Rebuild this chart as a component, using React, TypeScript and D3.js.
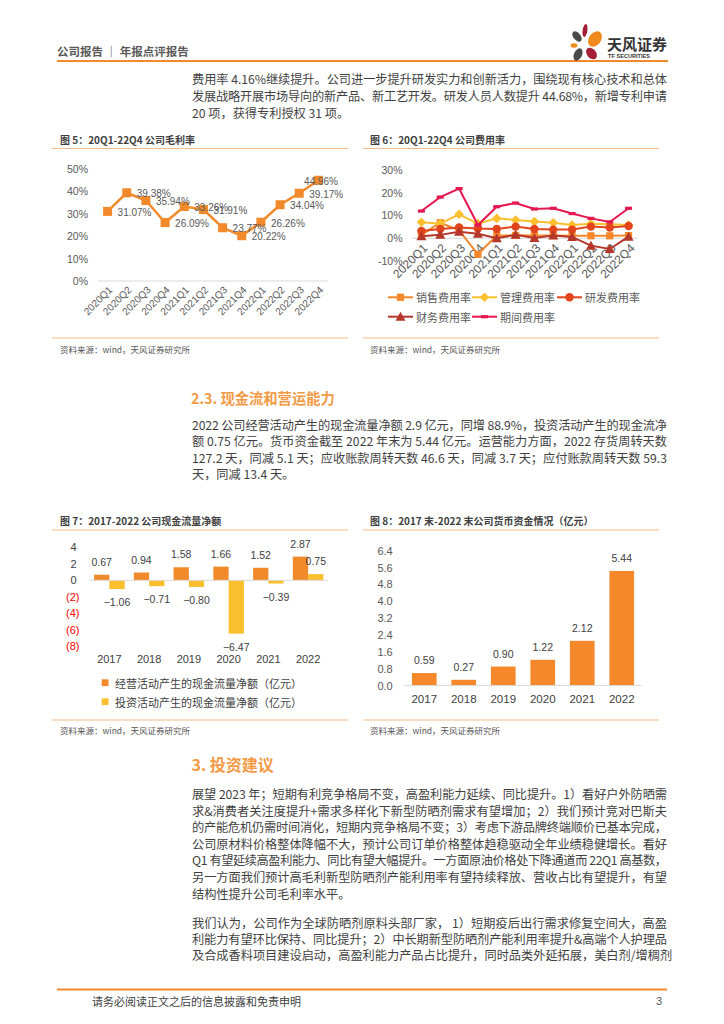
import React from 'react';
import * as d3 from 'd3';

// ---------------- data ----------------
const quarters = ['2020Q1', '2020Q2', '2020Q3', '2020Q4', '2021Q1', '2021Q2', '2021Q3', '2021Q4', '2022Q1', '2022Q2', '2022Q3', '2022Q4'];
const grossMargin = [31.07, 39.38, 35.94, 26.09, 33.26, 31.91, 23.77, 20.22, 26.26, 34.04, 39.17, 44.96];
const fig5Ticks = [0, 10, 20, 30, 40, 50];

const salesRate = [1.5, 6.8, 3.5, -7.0, 1.2, 1.3, 1.2, 1.2, 1.1, 1.1, 1.1, 1.2];
const adminRate = [7.0, 6.4, 10.5, 6.4, 8.7, 8.0, 7.3, 6.8, 5.8, 6.4, 6.1, 5.8];
const rdRate = [3.2, 4.1, 4.7, 4.3, 4.1, 5.1, 4.1, 3.8, 3.8, 5.1, 4.7, 5.4];
const finRate = [0.9, 1.5, 2.9, 2.0, 0.0, 1.5, 0.1, 1.2, 0.6, -3.2, -4.7, 0.7];
const periodRate = [11.9, 18.0, 21.7, 5.8, 13.8, 15.4, 12.8, 13.1, 10.8, 8.7, 7.1, 13.1];
const fig6Ticks = [-10, 0, 10, 20, 30];
const fig6Names = ['销售费用率', '管理费用率', '研发费用率', '财务费用率', '期间费用率'];

const years = ['2017', '2018', '2019', '2020', '2021', '2022'];
const operatingCF = [0.67, 0.94, 1.58, 1.66, 1.52, 2.87];
const investingCF = [-1.06, -0.71, -0.80, -6.47, -0.39, 0.75];
const fig7Ticks = [-8, -6, -4, -2, 0, 2, 4];
const fig7Names = ['经营活动产生的现金流量净额（亿元）', '投资活动产生的现金流量净额（亿元）'];

const cashBalance = [0.59, 0.27, 0.90, 1.22, 2.12, 5.44];
const fig8Ticks = [0, 0.8, 1.6, 2.4, 3.2, 4.0, 4.8, 5.6, 6.4];

const para1 = [
  '费用率 4.16%继续提升。公司进一步提升研发实力和创新活力，围绕现有核心技术和总体',
  '发展战略开展市场导向的新产品、新工艺开发。研发人员人数提升 44.68%，新增专利申请',
  '20 项，获得专利授权 31 项。',
];
const para2 = [
  '2022 公司经营活动产生的现金流量净额 2.9 亿元，同增 88.9%，投资活动产生的现金流净',
  '额 0.75 亿元。货币资金截至 2022 年末为 5.44 亿元。运营能力方面，2022 存货周转天数',
  '127.2 天，同减 5.1 天；应收账款周转天数 46.6 天，同减 3.7 天；应付账款周转天数 59.3',
  '天，同减 13.4 天。',
];
const para3 = [
  '展望 2023 年；短期有利竞争格局不变，高盈利能力延续、同比提升。1）看好户外防晒需',
  '求&消费者关注度提升+需求多样化下新型防晒剂需求有望增加；2）我们预计竞对巴斯夫',
  '的产能危机仍需时间消化，短期内竞争格局不变；3）考虑下游品牌终端顺价已基本完成，',
  '公司原材料价格整体降幅不大，预计公司订单价格整体趋稳驱动全年业绩稳健增长。看好',
  'Q1 有望延续高盈利能力、同比有望大幅提升。一方面原油价格处下降通道而 22Q1 高基数，',
  '另一方面我们预计高毛利新型防晒剂产能利用率有望持续释放、营收占比有望提升，有望',
  '结构性提升公司毛利率水平。',
];
const para4 = [
  '我们认为，公司作为全球防晒剂原料头部厂家， 1）短期疫后出行需求修复空间大，高盈',
  '利能力有望环比保持、同比提升；2）中长期新型防晒剂产能利用率提升&高端个人护理品',
  '及合成香料项目建设启动，高盈利能力产品占比提升，同时品类外延拓展，美白剂/增稠剂',
];

// ---------------- styles ----------------
const SANS = "'Liberation Sans', Arial, 'Noto Sans CJK SC', sans-serif";
const CJK = "'Noto Sans CJK SC', 'Liberation Sans', sans-serif";
const ORANGE = '#F28A2B';
const LIGHT_ORANGE = '#F6B987';
const TEXT = '#3f3f3f';
const AXIS_TEXT = '#595959';
const SER_COLORS = ['#F5882A', '#FBC02D', '#E2441C', '#B5372A', '#E5174F'];
const SER_MARKERS = ['square', 'diamond', 'circle', 'triangle', 'dash'];

function Marker({ type, x, y, color, s = 1 }: { type: string; x: number; y: number; color: string; s?: number }) {
  if (type === 'square') return <rect x={x - 3.6 * s} y={y - 3.6 * s} width={7.2 * s} height={7.2 * s} fill={color} />;
  if (type === 'diamond') return <path d={`M${x},${y - 4.8}L${x + 4.8},${y}L${x},${y + 4.8}L${x - 4.8},${y}Z`} fill={color} />;
  if (type === 'circle') return <circle cx={x} cy={y} r={4.2} fill={color} />;
  if (type === 'triangle') return <path d={`M${x},${y - 5}L${x + 5},${y + 4}L${x - 5},${y + 4}Z`} fill={color} />;
  return <rect x={x - 3.5} y={y - 1.6} width={7} height={3.2} fill={color} />;
}

function BodyLines({ lines, y0, step, x = 192, width = 475 }: { lines: string[]; y0: number; step: number; x?: number; width?: number }) {
  return (
    <g fontFamily={CJK} fontSize={12.2} fill={TEXT}>
      {lines.map((t, i) => (
        <text key={i} x={x} y={y0 + i * step} dominantBaseline="central"
          {...(i < lines.length - 1 ? { textLength: width, lengthAdjust: 'spacing' } : {})}>{t}</text>
      ))}
    </g>
  );
}

export default function App() {
  // ---------- Fig 5 ----------
  const x5 = d3.scaleBand<string>().domain(quarters).range([98, 328]);
  const c5 = (q: string) => (x5(q) as number) + x5.bandwidth() / 2;
  const y5 = d3.scaleLinear().domain([0, 50]).range([281, 169]);
  const line5 = d3.line<number>().x((d, i) => c5(quarters[i])).y((d) => y5(d));
  const pct = (v: number) => d3.format('.2f')(v) + '%';

  // ---------- Fig 6 ----------
  const x6 = d3.scaleBand<string>().domain(quarters).range([412, 638]);
  const c6 = (q: string) => (x6(q) as number) + x6.bandwidth() / 2;
  const y6 = d3.scaleLinear().domain([-10, 30]).range([261.2, 169.6]);
  const line6 = d3.line<number>().x((d, i) => c6(quarters[i])).y((d) => y6(d));
  const series6 = [salesRate, adminRate, rdRate, finRate, periodRate];

  // ---------- Fig 7 ----------
  const x7 = d3.scaleBand<string>().domain(years).range([89.5, 328]);
  const x7i = d3.scaleBand<string>().domain(['op', 'inv']).range([0, x7.bandwidth()]).paddingInner(0).paddingOuter(0.3);
  const y7 = d3.scaleLinear().domain([-8, 4]).range([646.3, 547.3]);
  const f2 = d3.format('.2f');

  // ---------- Fig 8 ----------
  const x8 = d3.scaleBand<string>().domain(years).range([404.5, 641.5]).paddingInner(0.375).paddingOuter(0.1875);
  const y8 = d3.scaleLinear().domain([0, 6.4]).range([685.5, 550.7]);

  const lastIdx = quarters.length - 1;

  return (
    <div style={{ position: 'absolute', left: 0, top: 0, width: 724, height: 1024, background: '#fff' }}>
      <svg width={724} height={1024} style={{ display: 'block' }}>
        {/* ---------- header ---------- */}
        <text x={57} y={50.5} fontFamily={CJK} fontSize={11.5} fontWeight={700} fill="#595959" dominantBaseline="central">公司报告 ｜ 年报点评报告</text>
        <line x1={57} x2={668} y1={61} y2={61} stroke={ORANGE} strokeWidth={2} />
        {/* logo */}
        <g>
          <ellipse cx={585} cy={30.5} rx={2.4} ry={6.5} fill="#A51E36" transform="rotate(8 585 30.5)" />
          <ellipse cx={577} cy={36.5} rx={3.6} ry={6} fill="#4a4a4a" transform="rotate(-40 577 36.5)" />
          <ellipse cx={595} cy={39} rx={6} ry={8.5} fill="#F08A1C" transform="rotate(35 595 39)" />
          <ellipse cx={574} cy={45.5} rx={3.4} ry={2.2} fill="#F08A1C" />
          <ellipse cx={578} cy={54.5} rx={4} ry={6.5} fill="#4a4a4a" transform="rotate(25 578 54.5)" />
          <ellipse cx={591.5} cy={53.5} rx={4.5} ry={6.5} fill="#A51E36" transform="rotate(-40 591.5 53.5)" />
          <text x={607} y={43} fontFamily={CJK} fontSize={15} fontWeight={700} fill="#333" dominantBaseline="central">天风证券</text>
          <text x={608} y={56} fontFamily={SANS} fontSize={5.5} fontWeight={700} fill="#333" dominantBaseline="central" textLength={42}>TF SECURITIES</text>
        </g>

        {/* ---------- paragraph 1 ---------- */}
        <BodyLines lines={para1} y0={79} step={16.8} />

        {/* ---------- Fig 5 ---------- */}
        <text x={60} y={139} fontFamily={CJK} fontSize={10} fontWeight={700} fill="#404040" dominantBaseline="central">图 5：20Q1-22Q4 公司毛利率</text>
        <line x1={52} x2={348} y1={148.5} y2={148.5} stroke={LIGHT_ORANGE} strokeWidth={1} />
        <line x1={98} x2={328} y1={281} y2={281} stroke="#d9d9d9" strokeWidth={1} />
        {fig5Ticks.map((t) => (
          <text key={t} x={88} y={y5(t)} textAnchor="end" dominantBaseline="central" fontFamily={SANS} fontSize={10.5} fill={AXIS_TEXT}>{t}%</text>
        ))}
        {quarters.map((q) => (
          <text key={q} transform={`translate(${c5(q) + 3},${288}) rotate(-45)`} textAnchor="end" dominantBaseline="central" fontFamily={SANS} fontSize={10} fill={AXIS_TEXT}>{q}</text>
        ))}
        <path d={line5(grossMargin) as string} fill="none" stroke={ORANGE} strokeWidth={2.5} />
        {grossMargin.map((v, i) => (
          <rect key={i} x={c5(quarters[i]) - 4.5} y={y5(v) - 4.5} width={9} height={9} fill={ORANGE} />
        ))}
        {grossMargin.map((v, i) => (
          <text key={i} x={i === lastIdx ? 338 : c5(quarters[i]) + 10} y={y5(v) + 1}
            textAnchor={i === lastIdx ? 'end' : 'start'} dominantBaseline="central" fontFamily={SANS} fontSize={10} fill={AXIS_TEXT}>{pct(v)}</text>
        ))}
        <line x1={52} x2={348} y1={338} y2={338} stroke={LIGHT_ORANGE} strokeWidth={1} />
        <text x={60} y={349} fontFamily={CJK} fontSize={8.5} fill="#555" dominantBaseline="central">资料来源：wind，天风证券研究所</text>

        {/* ---------- Fig 6 ---------- */}
        <text x={370} y={139} fontFamily={CJK} fontSize={10} fontWeight={700} fill="#404040" dominantBaseline="central">图 6：20Q1-22Q4 公司费用率</text>
        <line x1={363} x2={659} y1={148.5} y2={148.5} stroke={LIGHT_ORANGE} strokeWidth={1} />
        <line x1={412} x2={638} y1={y6(0)} y2={y6(0)} stroke="#d9d9d9" strokeWidth={1} />
        {fig6Ticks.map((t) => (
          <text key={t} x={402.5} y={y6(t)} textAnchor="end" dominantBaseline="central" fontFamily={SANS} fontSize={10.5} fill={AXIS_TEXT}>{t}%</text>
        ))}
        {quarters.map((q) => (
          <text key={q} transform={`translate(${c6(q) + 4},${246}) rotate(-45)`} textAnchor="end" dominantBaseline="central" fontFamily={SANS} fontSize={12} fill={AXIS_TEXT}>{q}</text>
        ))}
        {series6.map((s, k) => (
          <g key={k}>
            <path d={line6(s) as string} fill="none" stroke={SER_COLORS[k]} strokeWidth={2} />
            {s.map((v, i) => (
              <Marker key={i} type={SER_MARKERS[k]} x={c6(quarters[i])} y={y6(v)} color={SER_COLORS[k]} />
            ))}
          </g>
        ))}
        {fig6Names.map((n, k) => {
          const col = k < 3 ? k : k - 3;
          const row = k < 3 ? 0 : 1;
          const lx = [388, 472, 557][col];
          const ly = [297.3, 316.7][row];
          return (
            <g key={n}>
              <line x1={lx} x2={lx + 25} y1={ly} y2={ly} stroke={SER_COLORS[k]} strokeWidth={2} />
              <Marker type={SER_MARKERS[k]} x={lx + 12.5} y={ly} color={SER_COLORS[k]} />
              <text x={lx + 28} y={ly} dominantBaseline="central" fontFamily={CJK} fontSize={11} fill={AXIS_TEXT}>{n}</text>
            </g>
          );
        })}
        <line x1={363} x2={659} y1={338} y2={338} stroke={LIGHT_ORANGE} strokeWidth={1} />
        <text x={370} y={349} fontFamily={CJK} fontSize={8.5} fill="#555" dominantBaseline="central">资料来源：wind，天风证券研究所</text>

        {/* ---------- section 2.3 ---------- */}
        <text x={191} y={397} fontFamily={CJK} fontSize={14.3} fontWeight={700} fill="#F39A45" dominantBaseline="central">2.3. 现金流和营运能力</text>
        <BodyLines lines={para2} y0={425} step={16.3} />

        {/* ---------- Fig 7 ---------- */}
        <text x={60} y={520} fontFamily={CJK} fontSize={10} fontWeight={700} fill="#404040" dominantBaseline="central">图 7：2017-2022 公司现金流量净额</text>
        <line x1={52} x2={348} y1={530} y2={530} stroke={LIGHT_ORANGE} strokeWidth={1} />
        {fig7Ticks.map((t) => (
          <text key={t} x={t < 0 ? 79.5 : 76.5} y={y7(t)} textAnchor="end" dominantBaseline="central" fontFamily={SANS} fontSize={11}
            fill={t < 0 ? '#FF0000' : '#404040'}>{t < 0 ? `(${Math.abs(t)})` : t}</text>
        ))}
        {years.map((yr, i) => {
          const bx = x7(yr) as number;
          const vo = operatingCF[i];
          const vi = investingCF[i];
          const xo = bx + (x7i('op') as number);
          const xi = bx + (x7i('inv') as number);
          const w = x7i.bandwidth();
          return (
            <g key={yr}>
              <rect x={xo} y={Math.min(y7(vo), y7(0))} width={w} height={Math.abs(y7(vo) - y7(0))} fill="#F28A2B" />
              <rect x={xi} y={Math.min(y7(vi), y7(0))} width={w} height={Math.abs(y7(vi) - y7(0))} fill="#FBBF2E" />
              <text x={xo + w / 2} y={vo >= 0 ? y7(vo) - 13 : y7(vo) + 13} textAnchor="middle" dominantBaseline="central" fontFamily={SANS} fontSize={10.5} fill="#404040">{f2(vo)}</text>
              <text x={xi + w / 2} y={vi >= 0 ? y7(vi) - 13 : y7(vi) + 13} textAnchor="middle" dominantBaseline="central" fontFamily={SANS} fontSize={10.5} fill="#404040">{f2(vi)}</text>
              <text x={bx + x7.bandwidth() / 2} y={658.5} textAnchor="middle" dominantBaseline="central" fontFamily={SANS} fontSize={11} fill="#404040">{yr}</text>
            </g>
          );
        })}
        <line x1={89.5} x2={328} y1={y7(0)} y2={y7(0)} stroke="#d9d9d9" strokeWidth={1} />
        {fig7Names.map((n, k) => (
          <g key={n}>
            <rect x={101.7} y={[682.7, 701.7][k] - 3.4} width={6.8} height={6.8} fill={k === 0 ? '#F28A2B' : '#FBBF2E'} />
            <text x={115} y={[682.7, 701.7][k]} dominantBaseline="central" fontFamily={CJK} fontSize={11} fill="#404040">{n}</text>
          </g>
        ))}
        <line x1={52} x2={348} y1={720} y2={720} stroke={LIGHT_ORANGE} strokeWidth={1} />
        <text x={60} y={730} fontFamily={CJK} fontSize={8.5} fill="#555" dominantBaseline="central">资料来源：wind，天风证券研究所</text>

        {/* ---------- Fig 8 ---------- */}
        <text x={370} y={520} fontFamily={CJK} fontSize={10} fontWeight={700} fill="#404040" dominantBaseline="central">图 8：2017 末-2022 末公司货币资金情况（亿元）</text>
        <line x1={363} x2={659} y1={530} y2={530} stroke={LIGHT_ORANGE} strokeWidth={1} />
        {fig8Ticks.map((t) => (
          <text key={t} x={392.7} y={y8(t)} textAnchor="end" dominantBaseline="central" fontFamily={SANS} fontSize={11} fill={AXIS_TEXT}>{d3.format('.1f')(t)}</text>
        ))}
        {years.map((yr, i) => {
          const bx = x8(yr) as number;
          const w = x8.bandwidth();
          const v = cashBalance[i];
          return (
            <g key={yr}>
              <rect x={bx} y={y8(v)} width={w} height={y8(0) - y8(v)} fill="#F5882A" />
              <text x={bx + w / 2} y={y8(v) - 13} textAnchor="middle" dominantBaseline="central" fontFamily={SANS} fontSize={10.5} fill="#404040">{f2(v)}</text>
              <text x={bx + w / 2} y={698.5} textAnchor="middle" dominantBaseline="central" fontFamily={SANS} fontSize={11.5} fill="#404040">{yr}</text>
            </g>
          );
        })}
        <line x1={404.5} x2={641.5} y1={y8(0)} y2={y8(0)} stroke="#d9d9d9" strokeWidth={1} />
        <line x1={363} x2={659} y1={720} y2={720} stroke={LIGHT_ORANGE} strokeWidth={1} />
        <text x={370} y={730} fontFamily={CJK} fontSize={8.5} fill="#555" dominantBaseline="central">资料来源：wind，天风证券研究所</text>

        {/* ---------- section 3 ---------- */}
        <text x={191.5} y={764} fontFamily={CJK} fontSize={16} fontWeight={700} fill="#F39A45" dominantBaseline="central">3. 投资建议</text>
        <BodyLines lines={para3} y0={794} step={16.6} />
        <BodyLines lines={para4} y0={922.5} step={16.3} />

        {/* ---------- footer ---------- */}
        <line x1={57} x2={667} y1={989.5} y2={989.5} stroke={ORANGE} strokeWidth={2} />
        <text x={92} y={1001} fontFamily={CJK} fontSize={11} fill="#404040" dominantBaseline="central">请务必阅读正文之后的信息披露和免责申明</text>
        <text x={662} y={1001} fontFamily={SANS} fontSize={11} fill="#595959" dominantBaseline="central" textAnchor="end">3</text>
      </svg>
    </div>
  );
}
